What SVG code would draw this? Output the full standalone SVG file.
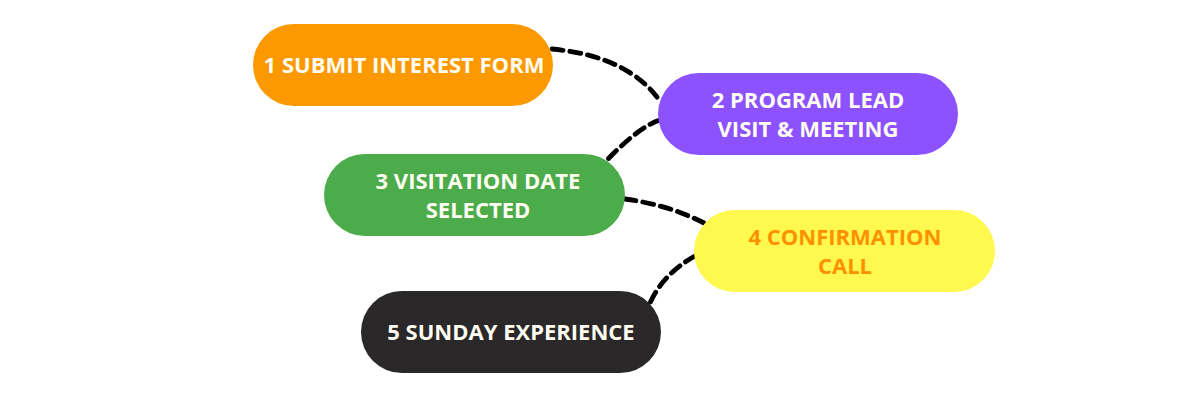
<svg xmlns="http://www.w3.org/2000/svg" width="1200" height="400" viewBox="0 0 1200 400">
<style>
.node{stroke:none}
.lbl{font-family:"Open Sans","Liberation Sans",sans-serif;font-weight:700;font-size:22px;text-anchor:middle}
.conn{fill:none;stroke:#000;stroke-width:4.8;stroke-dasharray:11 7;stroke-linecap:round}
</style>
<rect width="1200" height="400" fill="#ffffff"/>
<g id="connectors">
<path class="conn" d="M552,49 Q628,56 660,101"/>
<path class="conn" d="M660,120 Q640,126 607,160"/>
<path class="conn" d="M625,199 Q669,205 704,223"/>
<path class="conn" d="M695,256 Q663,274 650,303"/>
</g>
<g id="node1">
<rect class="node" x="253" y="24" width="300" height="82" rx="41" fill="#FC9800"/>
<text class="lbl" x="404" y="72.5" fill="#FFFDF2">1 SUBMIT INTEREST FORM</text>
</g>
<g id="node2">
<rect class="node" x="658" y="73" width="300" height="82" rx="41" fill="#8C52FF"/>
<text class="lbl" x="808" y="107.5" fill="#FFFDF2">2 PROGRAM LEAD</text>
<text class="lbl" x="808" y="136.5" fill="#FFFDF2">VISIT &amp; MEETING</text>
</g>
<g id="node3">
<rect class="node" x="324" y="154" width="301" height="82" rx="41" fill="#4CAC4B"/>
<text class="lbl" x="478" y="188.5" fill="#FFFDF2">3 VISITATION DATE</text>
<text class="lbl" x="478" y="217.5" fill="#FFFDF2">SELECTED</text>
</g>
<g id="node4">
<rect class="node" x="694" y="210" width="301" height="82" rx="41" fill="#FFF84F"/>
<text class="lbl" x="845" y="244.5" fill="#FF9100">4 CONFIRMATION</text>
<text class="lbl" x="845" y="273.5" fill="#FF9100">CALL</text>
</g>
<g id="node5">
<rect class="node" x="361" y="291" width="300" height="82" rx="41" fill="#2A2828"/>
<text class="lbl" x="511" y="339.5" fill="#FFFDF2">5 SUNDAY EXPERIENCE</text>
</g>
</svg>
